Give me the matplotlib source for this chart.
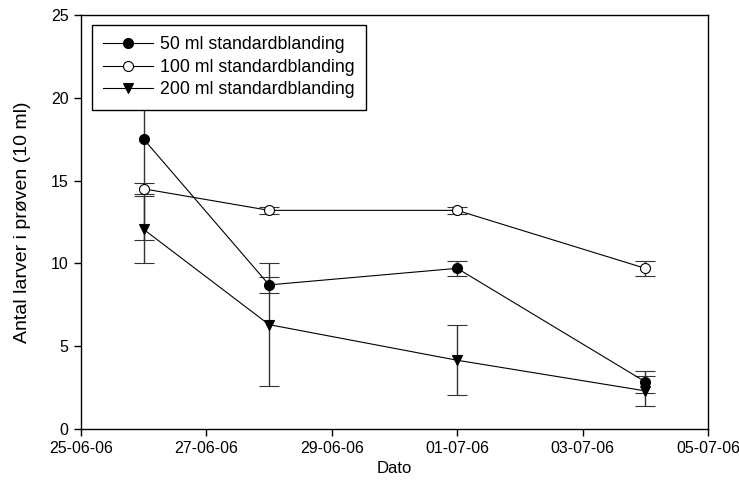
import numpy as np
import datetime as dt
import matplotlib
matplotlib.use('Agg')
import matplotlib.pyplot as plt
import matplotlib.dates as mdates
from matplotlib.lines import Line2D

plt.rcParams['font.family'] = ['Liberation Sans', 'DejaVu Sans']

# sampling dates
dates = [dt.date(2006, 6, 26), dt.date(2006, 6, 28), dt.date(2006, 7, 1), dt.date(2006, 7, 4)]

# mean larvae count and error per dose
ml50 = [17.5, 8.7, 9.7, 2.85]
ml50_err = [6.1, 0.5, 0.45, 0.65]
ml100 = [14.5, 13.2, 13.2, 9.7]
ml100_err = [0.33, 0.2, 0.2, 0.45]
ml200 = [12.05, 6.3, 4.15, 2.3]
ml200_err = [2.0, 3.72, 2.1, 0.92]

labels = ['50 ml standardblanding', '100 ml standardblanding', '200 ml standardblanding']

fig = plt.figure(figsize=(7.39, 4.98), dpi=100)
ax = fig.add_axes([0.1096, 0.1386, 0.8484, 0.8314])

styles = [dict(marker='o', mfc='black'), dict(marker='o', mfc='white'), dict(marker='v', mfc='black')]
handles = []
for y, e, lab, st in zip([ml50, ml100, ml200], [ml50_err, ml100_err, ml200_err], labels, styles):
    ax.errorbar(dates, y, yerr=e, color='black', lw=0.8, ms=7.2, mec='black', mew=0.8,
                ecolor='#333333', elinewidth=1.0, capsize=7, capthick=1.0, **st)
    handles.append(Line2D([], [], color='black', lw=0.8, ms=7.2, mec='black', mew=0.8, label=lab, **st))

ax.set_xlim(dt.date(2006, 6, 25), dt.date(2006, 7, 5))
ax.set_ylim(0, 25)
ax.xaxis.set_major_locator(mdates.DayLocator(bymonthday=[25, 27, 29, 1, 3, 5]))
ax.xaxis.set_major_formatter(mdates.DateFormatter('%d-%m-%y'))
ax.set_yticks([0, 5, 10, 15, 20, 25])
ax.tick_params(direction='out', length=5, width=1, labelsize=11.5, pad=4)
for s in ax.spines.values():
    s.set_linewidth(1)

ax.set_xlabel('Dato', fontsize=12, labelpad=3)
ax.set_ylabel('Antal larver i prøven (10 ml)', fontsize=14, labelpad=14)

leg = ax.legend(handles=handles, loc='upper left', bbox_to_anchor=(0.017, 0.976), fontsize=12.8,
                frameon=True, fancybox=False, edgecolor='black', framealpha=1, borderaxespad=0,
                handlelength=2.8, labelspacing=0.3, handletextpad=0.4, borderpad=0.65)
leg.get_frame().set_linewidth(1)
leg.set_zorder(10)

fig.savefig('out.png', dpi=100)
